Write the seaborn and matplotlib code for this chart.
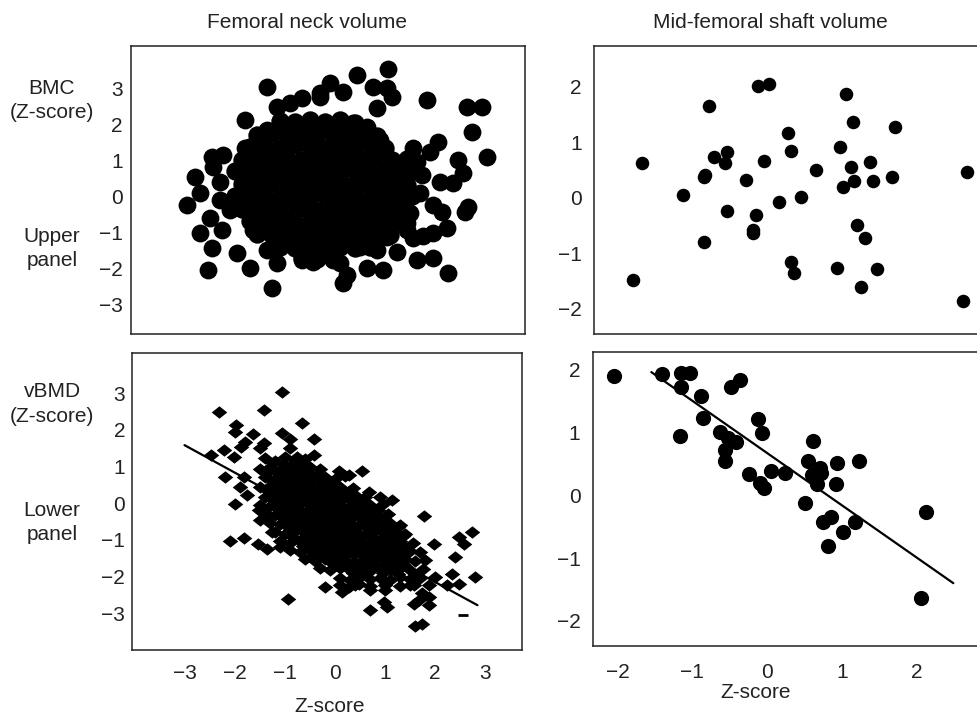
import matplotlib
matplotlib.use("Agg")
import matplotlib.pyplot as plt
import seaborn as sns

# column headings and row labels
col_titles = ["Femoral neck volume", "Mid-femoral shaft volume"]
row_labels_top = ["BMC", "(Z-score)", "Upper", "panel"]
row_labels_bottom = ["vBMD", "(Z-score)", "Lower", "panel"]
x_label = "Z-score"

# upper-left: BMC vs femoral neck volume (outer points)
neck_bmc_outer = [
    (-1.0, 3.06), (0.8, 3.39), (1.42, 3.56), (0.26, 3.17), (1.12, 3.06), (1.4, 3.03),
    (1.5, 2.78), (0.52, 2.92), (0.06, 2.89), (1.2, 2.47), (2.2, 2.69), (3.0, 2.5),
    (3.3, 2.5), (3.1, 1.8), (3.4, 1.11), (2.42, 1.53), (2.26, 1.25), (2.82, 1.03),
    (2.92, 0.67), (2.72, 0.39), (2.46, 0.42), (3.02, -0.28), (2.96, -0.42), (2.5, -0.42),
    (2.32, -0.22), (2.6, -0.86), (2.32, -1.0), (2.12, -1.1), (1.92, -1.14), (2.32, -1.69),
    (2.0, -1.75), (2.62, -2.11), (1.32, -2.03), (1.0, -1.97), (0.6, -2.17), (0.52, -2.39),
    (-0.9, -2.53), (-1.34, -1.97), (-2.18, -2.03), (-0.8, -1.83), (-1.6, -1.56), (-2.1, -1.42),
    (-2.34, -1.0), (-2.14, -0.58), (-2.6, -0.22), (-2.34, 0.11), (-2.44, 0.56), (-2.08, 0.83),
    (-2.1, 1.11), (-1.88, 1.17), (-1.94, 0.42), (-1.94, -0.08), (-1.74, -0.36), (-1.9, -0.92),
    (-1.44, 2.14), (-1.44, 1.36), (-0.8, 2.5), (-0.54, 2.61), (-0.3, 2.75), (-1.0, 1.86),
    (-1.08, 1.58), (0.06, 2.78), (0.72, 2.06), (1.0, 1.94), (1.26, 1.58), (1.92, 1.36),
    (2.0, 0.97), (1.72, 0.67), (2.1, 0.61), (2.06, 0.11), (1.86, -0.44), (1.8, -0.72),
    (1.8, -0.92), (1.4, -1.11), (0.86, -1.39), (1.2, -1.47), (1.6, -1.53), (0.32, -1.75),
    (0.46, -1.83), (-0.3, -1.75), (-0.08, -1.8), (-1.0, -1.47), (-1.28, -0.92),
]

# upper-left: dense core of the cloud
neck_bmc_core = [
    (-0.75, 2.12), (-0.45, 2.07), (-0.15, 2.14), (0.15, 2.09), (0.45, 2.13), (0.75, 2.04),
    (-1.2, 1.73), (-0.9, 1.78), (-0.6, 1.71), (-0.3, 1.79), (0.0, 1.74), (0.3, 1.77),
    (0.6, 1.72), (0.9, 1.76), (1.2, 1.69),
    (-1.35, 1.39), (-1.05, 1.42), (-0.75, 1.37), (-0.45, 1.43), (-0.15, 1.4), (0.15, 1.36),
    (0.45, 1.42), (0.75, 1.38), (1.05, 1.43), (1.35, 1.37),
    (-1.5, 1.03), (-1.2, 1.07), (-0.9, 1.04), (-0.6, 1.06), (-0.3, 1.01), (0.0, 1.07),
    (0.3, 1.03), (0.6, 1.06), (0.9, 1.02), (1.2, 1.07), (1.5, 1.03), (1.8, 1.05),
    (-1.65, 0.71), (-1.35, 0.68), (-1.05, 0.73), (-0.75, 0.69), (-0.45, 0.72), (-0.15, 0.68),
    (0.15, 0.73), (0.45, 0.69), (0.75, 0.72), (1.05, 0.67), (1.35, 0.71), (1.65, 0.69),
    (1.9, 0.72),
    (-1.5, 0.36), (-1.2, 0.33), (-0.9, 0.38), (-0.6, 0.32), (-0.3, 0.37), (0.0, 0.34),
    (0.3, 0.36), (0.6, 0.31), (0.9, 0.38), (1.2, 0.33), (1.5, 0.37), (1.8, 0.34),
    (-1.65, 0.02), (-1.35, -0.03), (-1.05, 0.01), (-0.75, -0.02), (-0.45, 0.03), (-0.15, -0.01),
    (0.15, 0.02), (0.45, -0.03), (0.75, 0.01), (1.05, -0.02), (1.35, 0.03), (1.65, -0.01),
    (1.9, 0.01),
    (-1.5, -0.33), (-1.2, -0.37), (-0.9, -0.34), (-0.6, -0.36), (-0.3, -0.32), (0.0, -0.38),
    (0.3, -0.35), (0.6, -0.33), (0.9, -0.37), (1.2, -0.34), (1.5, -0.36), (1.75, -0.33),
    (-1.35, -0.68), (-1.05, -0.72), (-0.75, -0.69), (-0.45, -0.73), (-0.15, -0.7), (0.15, -0.67),
    (0.45, -0.72), (0.75, -0.7), (1.05, -0.68), (1.35, -0.72), (1.6, -0.69),
    (-1.2, -1.03), (-0.9, -1.07), (-0.6, -1.04), (-0.3, -1.08), (0.0, -1.02), (0.3, -1.06),
    (0.6, -1.04), (0.9, -1.07), (1.2, -1.03), (1.45, -1.06),
    (-0.75, -1.38), (-0.45, -1.42), (-0.15, -1.37), (0.15, -1.41), (0.45, -1.39), (0.75, -1.43),
    (1.05, -1.38),
    (-0.3, -1.69), (0.0, -1.72), (0.3, -1.67),
]

# lower-left: vBMD vs femoral neck volume (outer points)
neck_vbmd_outer = [
    (-1.07, 3.02), (-2.32, 2.49), (-1.43, 2.55), (-0.67, 2.19), (-1.99, 2.14), (-2.0, 1.94),
    (-1.65, 1.88), (-1.07, 1.92), (-0.91, 1.76), (-0.43, 1.74), (-1.8, 1.67), (-1.89, 1.53),
    (-1.43, 1.63), (-1.5, 1.49), (-2.23, 1.44), (-2.47, 1.31), (-2.03, 1.26), (-0.43, 1.31),
    (-0.9, 1.49), (-0.77, 1.26), (-2.2, 0.72), (-2.0, -0.01), (-1.83, 0.72), (-1.9, 0.44),
    (-1.77, 0.22), (0.07, 0.88), (0.27, 0.76), (0.53, 0.88), (0.67, 0.31), (0.9, 0.17),
    (1.13, 0.08), (1.77, -0.35), (1.97, -1.1), (2.47, -0.92), (2.57, -1.1), (2.73, -0.78),
    (2.4, -1.46), (2.8, -2.01), (2.33, -1.92), (2.47, -2.19), (2.23, -2.23), (2.0, -2.01),
    (1.87, -2.23), (1.63, -1.96), (1.57, -2.23), (1.73, -2.46), (1.87, -2.55), (1.67, -2.64),
    (1.57, -2.76), (1.87, -2.78), (1.6, -3.35), (1.73, -3.28), (0.7, -2.9), (0.97, -2.69),
    (1.03, -2.83), (1.0, -2.37), (0.7, -2.37), (0.47, -2.19), (0.13, -2.42), (0.27, -2.28),
    (0.1, -2.23), (-0.2, -2.28), (-0.95, -2.6), (-2.1, -1.03), (-1.83, -0.94), (-1.55, -1.12),
    (-1.37, -1.26), (-1.5, -0.46), (-1.37, -0.33), (-1.53, -0.19), (-1.27, -0.78), (-1.1, -1.19),
]

# lower-left: dense band along the fitted line
neck_vbmd_core = [
    (-1.4, 1.22), (-1.2, 1.16), (-1.0, 1.25), (-0.8, 1.18), (-0.6, 1.21),
    (-1.5, 0.93), (-1.3, 0.98), (-1.1, 0.91), (-0.9, 0.97), (-0.7, 0.94), (-0.5, 0.99), (-0.3, 0.92),
    (-1.4, 0.72), (-1.2, 0.67), (-1.0, 0.73), (-0.8, 0.69), (-0.6, 0.74), (-0.4, 0.68),
    (-0.2, 0.71), (0.0, 0.66), (0.2, 0.73),
    (-1.5, 0.44), (-1.3, 0.48), (-1.1, 0.42), (-0.9, 0.47), (-0.7, 0.43), (-0.5, 0.46),
    (-0.3, 0.41), (-0.1, 0.48), (0.1, 0.44), (0.35, 0.42),
    (-1.4, 0.18), (-1.2, 0.23), (-1.0, 0.17), (-0.8, 0.22), (-0.6, 0.19), (-0.4, 0.24),
    (-0.2, 0.16), (0.0, 0.21), (0.2, 0.18), (0.4, 0.23), (0.6, 0.17),
    (-1.5, -0.04), (-1.3, -0.08), (-1.1, -0.02), (-0.9, -0.07), (-0.7, -0.03), (-0.5, -0.06),
    (-0.3, -0.01), (-0.1, -0.08), (0.1, -0.04), (0.3, -0.07), (0.5, -0.02), (0.7, -0.06),
    (0.95, -0.03),
    (-1.4, -0.28), (-1.2, -0.33), (-1.0, -0.27), (-0.8, -0.32), (-0.6, -0.29), (-0.4, -0.34),
    (-0.2, -0.26), (0.0, -0.31), (0.2, -0.28), (0.4, -0.33), (0.6, -0.27), (0.8, -0.32),
    (1.05, -0.29),
    (-1.3, -0.53), (-1.1, -0.58), (-0.9, -0.52), (-0.7, -0.57), (-0.5, -0.54), (-0.3, -0.59),
    (-0.1, -0.51), (0.1, -0.56), (0.3, -0.53), (0.5, -0.58), (0.7, -0.52), (0.9, -0.57),
    (1.1, -0.54), (1.3, -0.59),
    (-1.2, -0.78), (-1.0, -0.83), (-0.8, -0.77), (-0.6, -0.82), (-0.4, -0.79), (-0.2, -0.84),
    (0.0, -0.76), (0.2, -0.81), (0.4, -0.78), (0.6, -0.83), (0.8, -0.77), (1.0, -0.82),
    (1.2, -0.79), (1.4, -0.84),
    (-1.1, -1.03), (-0.9, -1.08), (-0.7, -1.02), (-0.5, -1.07), (-0.3, -1.04), (-0.1, -1.09),
    (0.1, -1.01), (0.3, -1.06), (0.5, -1.03), (0.7, -1.08), (0.9, -1.02), (1.1, -1.07),
    (1.3, -1.04), (1.55, -1.09),
    (-0.9, -1.28), (-0.7, -1.33), (-0.5, -1.27), (-0.3, -1.32), (-0.1, -1.29), (0.1, -1.34),
    (0.3, -1.26), (0.5, -1.31), (0.7, -1.28), (0.9, -1.33), (1.1, -1.27), (1.3, -1.32),
    (1.5, -1.29), (1.7, -1.34),
    (-0.6, -1.53), (-0.4, -1.58), (-0.2, -1.52), (0.0, -1.57), (0.2, -1.54), (0.4, -1.59),
    (0.6, -1.51), (0.8, -1.56), (1.0, -1.53), (1.2, -1.58), (1.4, -1.52), (1.6, -1.57),
    (1.8, -1.54),
    (-0.3, -1.78), (-0.1, -1.83), (0.1, -1.77), (0.3, -1.82), (0.5, -1.79), (0.7, -1.84),
    (0.9, -1.76), (1.1, -1.81), (1.3, -1.78), (1.5, -1.83), (1.75, -1.79),
    (0.1, -2.03), (0.3, -2.08), (0.5, -2.02), (0.7, -2.07), (0.9, -2.04), (1.1, -2.09),
    (1.3, -2.01), (1.5, -2.06), (1.7, -2.03),
    (0.4, -2.24), (0.7, -2.27), (1.0, -2.22), (1.3, -2.26), (1.5, -2.23),
]

# lower-left: the darkest, fully overlapped middle of the band
neck_vbmd_inner = [
    (-1.25, 1.09), (-1.05, 1.06), (-0.85, 1.1), (-0.65, 1.07),
    (-1.35, 0.84), (-1.15, 0.81), (-0.95, 0.85), (-0.75, 0.82), (-0.55, 0.86), (-0.35, 0.8),
    (-1.25, 0.59), (-1.05, 0.56), (-0.85, 0.6), (-0.65, 0.57), (-0.45, 0.61), (-0.25, 0.55),
    (-0.05, 0.58),
    (-1.35, 0.34), (-1.15, 0.31), (-0.95, 0.35), (-0.75, 0.32), (-0.55, 0.36), (-0.35, 0.3),
    (-0.15, 0.33), (0.05, 0.36), (0.25, 0.31),
    (-1.25, 0.09), (-1.05, 0.06), (-0.85, 0.1), (-0.65, 0.07), (-0.45, 0.11), (-0.25, 0.05),
    (-0.05, 0.08), (0.15, 0.11), (0.35, 0.06), (0.55, 0.09),
    (-1.15, -0.16), (-0.95, -0.19), (-0.75, -0.15), (-0.55, -0.18), (-0.35, -0.14),
    (-0.15, -0.2), (0.05, -0.17), (0.25, -0.14), (0.45, -0.19), (0.65, -0.16), (0.85, -0.18),
    (-1.05, -0.41), (-0.85, -0.44), (-0.65, -0.4), (-0.45, -0.43), (-0.25, -0.39),
    (-0.05, -0.45), (0.15, -0.42), (0.35, -0.39), (0.55, -0.44), (0.75, -0.41), (0.95, -0.43),
    (-0.95, -0.66), (-0.75, -0.69), (-0.55, -0.65), (-0.35, -0.68), (-0.15, -0.64),
    (0.05, -0.7), (0.25, -0.67), (0.45, -0.64), (0.65, -0.69), (0.85, -0.66), (1.05, -0.68),
    (1.25, -0.65),
    (-0.85, -0.91), (-0.65, -0.94), (-0.45, -0.9), (-0.25, -0.93), (-0.05, -0.89),
    (0.15, -0.95), (0.35, -0.92), (0.55, -0.89), (0.75, -0.94), (0.95, -0.91), (1.15, -0.93),
    (1.35, -0.9),
    (-0.65, -1.16), (-0.45, -1.19), (-0.25, -1.15), (-0.05, -1.18), (0.15, -1.14),
    (0.35, -1.2), (0.55, -1.17), (0.75, -1.14), (0.95, -1.19), (1.15, -1.16), (1.35, -1.18),
    (-0.45, -1.41), (-0.25, -1.44), (-0.05, -1.4), (0.15, -1.43), (0.35, -1.39),
    (0.55, -1.45), (0.75, -1.42), (0.95, -1.39), (1.15, -1.44), (1.35, -1.41),
    (-0.05, -1.66), (0.15, -1.69), (0.35, -1.65), (0.55, -1.68), (0.75, -1.64),
    (0.95, -1.7), (1.15, -1.67), (1.35, -1.65),
    (0.35, -1.91), (0.55, -1.94), (0.95, -1.9), (1.25, -1.93),
]
neck_fit_x = [-3.01, 2.85]
neck_fit_y = [1.58, -2.78]
neck_dash = [(2.55, -3.05)]

# upper-right: BMC vs mid-femoral shaft volume
shaft_bmc = [
    (-1.51, 0.63), (-1.62, -1.47), (-0.99, 0.05), (-0.73, 0.38), (-0.71, 0.41), (-0.66, 1.65),
    (-0.73, -0.79), (-0.6, 0.74), (-0.44, 0.83), (-0.46, 0.63), (-0.43, -0.23), (-0.19, 0.32),
    (-0.07, -0.31), (-0.11, -0.58), (-0.11, -0.63), (-0.04, 2.01), (0.10, 2.05), (0.03, 0.67),
    (0.22, -0.08), (0.34, 1.17), (0.37, 0.85), (0.5, 0.01), (0.37, -1.16), (0.41, -1.35),
    (0.69, 0.5), (1.0, 0.91), (1.07, 1.86), (1.16, 1.37), (1.14, 0.56), (1.04, 0.2),
    (1.17, 0.31), (1.38, 0.65), (1.42, 0.31), (1.65, 0.37), (1.69, 1.27), (1.21, -0.49),
    (1.31, -0.72), (0.96, -1.26), (1.47, -1.28), (1.26, -1.6), (2.61, 0.46), (2.56, -1.85),
]

# lower-right: vBMD vs mid-femoral shaft volume
shaft_vbmd = [
    (-2.05, 1.89), (-1.41, 1.93), (-1.15, 1.94), (-1.03, 1.94), (-1.15, 1.73), (-1.16, 0.95),
    (-0.89, 1.58), (-0.86, 1.23), (-0.49, 1.73), (-0.36, 1.84), (-0.63, 1.01), (-0.52, 0.91),
    (-0.42, 0.84), (-0.57, 0.72), (-0.57, 0.54), (-0.24, 0.34), (-0.12, 1.21), (-0.07, 0.99),
    (0.05, 0.39), (0.24, 0.35), (-0.09, 0.19), (-0.04, 0.12), (0.51, -0.12), (0.55, 0.55),
    (0.61, 0.86), (0.6, 0.32), (0.71, 0.44), (0.72, 0.35), (0.67, 0.18), (0.94, 0.52),
    (0.92, 0.18), (1.23, 0.55), (0.75, -0.42), (0.85, -0.34), (0.81, -0.81), (1.01, -0.59),
    (1.18, -0.43), (2.13, -0.26), (2.06, -1.64),
]
shaft_fit_x = [-1.55, 2.49]
shaft_fit_y = [1.96, -1.40]

neck_ticks = [-3, -2, -1, 0, 1, 2, 3]
shaft_ticks = [-2, -1, 0, 1, 2]
shaft_top_xticks = [-1.5, -0.5, 0.5, 1.5, 2.5]

# wide, flat diamond used in the lower-left panel
flat_diamond = [(-1.0, 0.0), (0.0, 0.8), (1.0, 0.0), (0.0, -0.8), (-1.0, 0.0)]


def xs(points):
    return [p[0] for p in points]


def ys(points):
    return [p[1] for p in points]


sns.set_style("white")
plt.rcParams["font.family"] = ["Liberation Sans", "DejaVu Sans"]
plt.rcParams["axes.unicode_minus"] = True
text_color = "#222222"
fs = 15

fig = plt.figure(figsize=(9.78, 7.15), dpi=100)
W, H = 978, 715


def make_axes(left, top, right, bottom):
    return fig.add_axes([left / W, 1 - bottom / H, (right - left) / W, (bottom - top) / H])


ax_tl = make_axes(131, 46, 525, 334)
ax_bl = make_axes(132, 353, 522, 650)
ax_tr = make_axes(594, 46, 984, 334)
ax_br = make_axes(593, 352, 984, 646)

# upper-left
sns.scatterplot(x=xs(neck_bmc_core), y=ys(neck_bmc_core), ax=ax_tl, color="black",
                s=175, linewidth=0, legend=False)
sns.scatterplot(x=xs(neck_bmc_outer), y=ys(neck_bmc_outer), ax=ax_tl, color="black",
                s=165, linewidth=0, legend=False)
ax_tl.set_xlim(-3.72, 4.16)
ax_tl.set_ylim(-3.81, 4.19)
ax_tl.set_xticks(neck_ticks)
ax_tl.set_xticklabels([])
ax_tl.set_yticks(neck_ticks)
ax_tl.tick_params(axis="x", direction="in", length=3, width=1.2)
ax_tl.tick_params(axis="y", length=0, pad=6)

# lower-left
for group in (neck_vbmd_core, neck_vbmd_inner, neck_vbmd_outer):
    sns.scatterplot(x=xs(group), y=ys(group), ax=ax_bl, color="black",
                    marker=flat_diamond, s=125, linewidth=0, legend=False)
sns.lineplot(x=neck_fit_x, y=neck_fit_y, ax=ax_bl, color="black", linewidth=1.6)
sns.scatterplot(x=xs(neck_dash), y=ys(neck_dash), ax=ax_bl, color="black", marker="_",
                s=60, linewidth=2, legend=False)
ax_bl.set_xlim(-4.06, 3.74)
ax_bl.set_ylim(-4.0, 4.09)
ax_bl.set_xticks(neck_ticks)
ax_bl.set_yticks(neck_ticks)
ax_bl.tick_params(axis="x", direction="in", length=4, width=1.2, pad=10)
ax_bl.tick_params(axis="y", direction="in", length=3, width=1.2, pad=5)

# upper-right
sns.scatterplot(x=xs(shaft_bmc), y=ys(shaft_bmc), ax=ax_tr, color="black",
                s=95, linewidth=0, legend=False)
ax_tr.set_xlim(-2.12, 2.82)
ax_tr.set_ylim(-2.45, 2.73)
ax_tr.set_xticks(shaft_top_xticks)
ax_tr.set_xticklabels([])
ax_tr.set_yticks(shaft_ticks)
ax_tr.tick_params(axis="x", direction="in", length=3, width=1.2)
ax_tr.tick_params(axis="y", direction="in", length=3, width=1.5, pad=9)

# lower-right
sns.scatterplot(x=xs(shaft_vbmd), y=ys(shaft_vbmd), ax=ax_br, color="black",
                s=120, linewidth=0, legend=False)
sns.lineplot(x=shaft_fit_x, y=shaft_fit_y, ax=ax_br, color="black", linewidth=1.6)
ax_br.set_xlim(-2.33, 2.9)
ax_br.set_ylim(-2.4, 2.28)
ax_br.set_xticks(shaft_ticks)
ax_br.set_yticks(shaft_ticks)
ax_br.tick_params(axis="x", direction="in", length=4, width=1.5, pad=12)
ax_br.tick_params(axis="y", direction="in", length=3, width=1.5, pad=9)

for ax in (ax_tl, ax_bl, ax_tr, ax_br):
    for side in ("top", "bottom", "left", "right"):
        ax.spines[side].set_visible(True)
        ax.spines[side].set_color("#222222")
        ax.spines[side].set_linewidth(1.1)
    ax.tick_params(labelsize=fs, labelcolor=text_color, color="black")
    ax.set_xlabel("")
    ax.set_ylabel("")
for ax in (ax_tr, ax_br):
    ax.spines["right"].set_visible(False)

# column titles
fig.text(307 / W, 1 - 22 / H, col_titles[0], ha="center", va="center",
         fontsize=fs, color=text_color)
fig.text(770 / W, 1 - 22 / H, col_titles[1], ha="center", va="center",
         fontsize=fs, color=text_color)

# row labels
for label, ypix in zip(row_labels_top, [88, 113, 236, 260]):
    fig.text(52 / W, 1 - ypix / H, label, ha="center", va="center",
             fontsize=fs, color=text_color)
for label, ypix in zip(row_labels_bottom, [391, 416, 510, 535]):
    fig.text(52 / W, 1 - ypix / H, label, ha="center", va="center",
             fontsize=fs, color=text_color)

# x axis titles
fig.text(330 / W, 1 - 706 / H, x_label, ha="center", va="center",
         fontsize=fs, color=text_color)
fig.text(756 / W, 1 - 692 / H, x_label, ha="center", va="center",
         fontsize=fs, color=text_color)

fig.savefig("out.png", dpi=100)
